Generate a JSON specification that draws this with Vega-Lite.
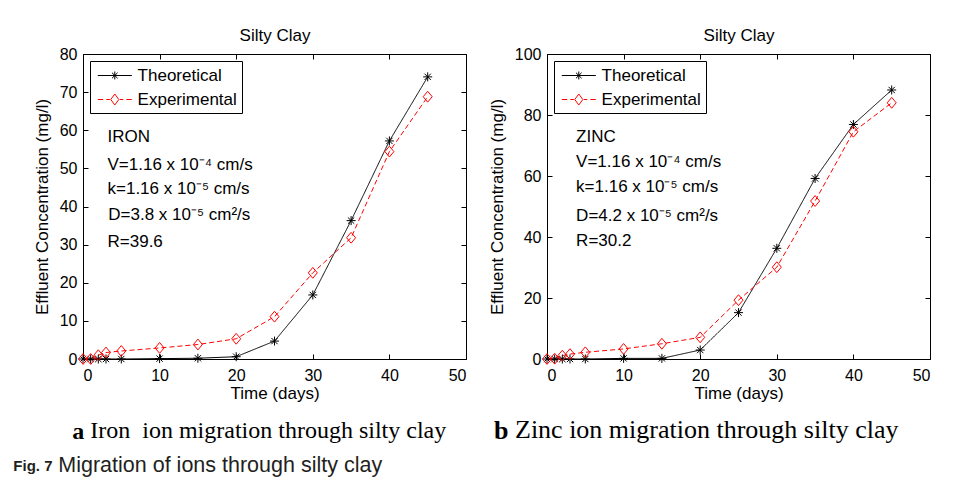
{
  "$schema": "https://vega.github.io/schema/vega-lite/v6.json",
  "padding": {"left": 13, "top": 25, "right": 5, "bottom": 5},
  "background": "#ffffff",
  "datasets": {
    "iron": [
      {"t": 0, "c": 0, "series": "Theoretical"},
      {"t": 1, "c": 0, "series": "Theoretical"},
      {"t": 2, "c": 0, "series": "Theoretical"},
      {"t": 3, "c": 0, "series": "Theoretical"},
      {"t": 5, "c": 0, "series": "Theoretical"},
      {"t": 10, "c": 0.1, "series": "Theoretical"},
      {"t": 15, "c": 0.2, "series": "Theoretical"},
      {"t": 20, "c": 0.6, "series": "Theoretical"},
      {"t": 25, "c": 4.7, "series": "Theoretical"},
      {"t": 30, "c": 16.8, "series": "Theoretical"},
      {"t": 35, "c": 36.3, "series": "Theoretical"},
      {"t": 40, "c": 57.2, "series": "Theoretical"},
      {"t": 45, "c": 74.0, "series": "Theoretical"},
      {"t": 0, "c": 0, "series": "Experimental"},
      {"t": 1, "c": 0, "series": "Experimental"},
      {"t": 2, "c": 1.0, "series": "Experimental"},
      {"t": 3, "c": 1.7, "series": "Experimental"},
      {"t": 5, "c": 2.1, "series": "Experimental"},
      {"t": 10, "c": 2.9, "series": "Experimental"},
      {"t": 15, "c": 3.8, "series": "Experimental"},
      {"t": 20, "c": 5.3, "series": "Experimental"},
      {"t": 25, "c": 11.1, "series": "Experimental"},
      {"t": 30, "c": 22.6, "series": "Experimental"},
      {"t": 35, "c": 31.8, "series": "Experimental"},
      {"t": 40, "c": 54.4, "series": "Experimental"},
      {"t": 45, "c": 68.8, "series": "Experimental"}
    ],
    "zinc": [
      {"t": 0, "c": 0, "series": "Theoretical"},
      {"t": 1, "c": 0, "series": "Theoretical"},
      {"t": 2, "c": 0, "series": "Theoretical"},
      {"t": 3, "c": 0, "series": "Theoretical"},
      {"t": 5, "c": 0, "series": "Theoretical"},
      {"t": 10, "c": 0.2, "series": "Theoretical"},
      {"t": 15, "c": 0.2, "series": "Theoretical"},
      {"t": 20, "c": 2.95, "series": "Theoretical"},
      {"t": 25, "c": 15.2, "series": "Theoretical"},
      {"t": 30, "c": 36.3, "series": "Theoretical"},
      {"t": 35, "c": 59.2, "series": "Theoretical"},
      {"t": 40, "c": 76.9, "series": "Theoretical"},
      {"t": 45, "c": 88.2, "series": "Theoretical"},
      {"t": 0, "c": 0, "series": "Experimental"},
      {"t": 1, "c": 0.1, "series": "Experimental"},
      {"t": 2, "c": 1.1, "series": "Experimental"},
      {"t": 3, "c": 1.6, "series": "Experimental"},
      {"t": 5, "c": 2.2, "series": "Experimental"},
      {"t": 10, "c": 3.3, "series": "Experimental"},
      {"t": 15, "c": 5.0, "series": "Experimental"},
      {"t": 20, "c": 7.1, "series": "Experimental"},
      {"t": 25, "c": 19.3, "series": "Experimental"},
      {"t": 30, "c": 30.1, "series": "Experimental"},
      {"t": 35, "c": 51.8, "series": "Experimental"},
      {"t": 40, "c": 74.5, "series": "Experimental"},
      {"t": 45, "c": 84.0, "series": "Experimental"}
    ],
    "ironNotes": [
      {"t": 3.2, "c": 57.0, "label": "IRON"},
      {"t": 3.2, "c": 49.6, "label": "V=1.16 x 10⁻⁴ cm/s"},
      {"t": 3.2, "c": 43.4, "label": "k=1.16 x 10⁻⁵ cm/s"},
      {"t": 3.3, "c": 36.5, "label": "D=3.8 x 10⁻⁵ cm²/s"},
      {"t": 3.2, "c": 29.5, "label": "R=39.6"}
    ],
    "zincNotes": [
      {"t": 3.8, "c": 71.2, "label": "ZINC"},
      {"t": 3.8, "c": 62.8, "label": "V=1.16 x 10⁻⁴ cm/s"},
      {"t": 3.8, "c": 54.7, "label": "k=1.16 x 10⁻⁵ cm/s"},
      {"t": 3.8, "c": 45.3, "label": "D=4.2 x 10⁻⁵ cm²/s"},
      {"t": 3.8, "c": 37.1, "label": "R=30.2"}
    ]
  },
  "title": {
    "text": "Fig. 7",
    "orient": "bottom",
    "anchor": "start",
    "frame": "group",
    "font": "Liberation Sans",
    "fontSize": 15,
    "fontWeight": "bold",
    "color": "#231f20",
    "baseline": "alphabetic",
    "offset": 0,
    "dx": -69.7,
    "dy": -5
  },
  "vconcat": [
    {
      "title": {
        "text": "Migration of ions through silty clay",
        "orient": "bottom",
        "anchor": "start",
        "frame": "group",
        "font": "Liberation Sans",
        "fontSize": 21.5,
        "fontWeight": "normal",
        "color": "#231f20",
        "baseline": "alphabetic",
        "offset": 28,
        "dx": -24.7
      },
      "spacing": 20,
      "hconcat": [
        {
          "bounds": "flush",
          "title": {
            "text": "a",
            "orient": "bottom",
            "anchor": "start",
            "frame": "group",
            "font": "Liberation Serif",
            "fontSize": 24,
            "fontWeight": "bold",
            "color": "#000000",
            "baseline": "alphabetic",
            "offset": 0,
            "dx": -10.7,
            "dy": -5
          },
          "vconcat": [
            {
              "width": 383,
              "height": 305,
              "title": {
                "text": "Iron\u00a0 ion migration through silty clay",
                "orient": "bottom",
                "anchor": "start",
                "frame": "group",
                "font": "Liberation Serif",
                "fontSize": 24,
                "fontWeight": "normal",
                "color": "#000000",
                "baseline": "alphabetic",
                "offset": 37,
                "dx": 7.3
              },
              "resolve": {"scale": {"color": "independent", "shape": "independent", "strokeDash": "independent"}},
              "layer": [
                {
                  "data": {"name": "iron"},
                  "mark": {"type": "line", "strokeWidth": 1, "clip": false},
                  "encoding": {
                    "x": {"field": "t", "type": "quantitative", "scale": {"domain": [0, 50], "nice": false},
                          "axis": {"orient": "bottom", "title": "Time (days)", "values": [0, 10, 20, 30, 40, 50], "labelPadding": 13, "titlePadding": 2}},
                    "y": {"field": "c", "type": "quantitative", "scale": {"domain": [0, 80], "nice": false},
                          "axis": {"orient": "left", "title": "Effluent Concentration (mg/l)", "values": [0, 10, 20, 30, 40, 50, 60, 70, 80], "labelPadding": 11, "titlePadding": 8}},
                    "color": {"field": "series", "type": "nominal",
                              "scale": {"domain": ["Theoretical", "Experimental"], "range": ["#000000", "#ff0000"]},
                              "legend": null},
                    "strokeDash": {"field": "series", "type": "nominal",
                                   "scale": {"domain": ["Theoretical", "Experimental"], "range": [[1, 0], [5, 3]]},
                                   "legend": null}
                  }
                },
                {
                  "data": {"name": "iron"},
                  "mark": {"type": "point", "filled": false, "strokeWidth": 1, "size": 81, "opacity": 1, "clip": false},
                  "encoding": {
                    "x": {"field": "t", "type": "quantitative",
                          "axis": {"orient": "top", "labels": false, "title": "Silty Clay", "values": [0, 10, 20, 30, 40, 50], "titlePadding": 13.5, "titleBaseline": "alphabetic", "domain": false}},
                    "y": {"field": "c", "type": "quantitative",
                          "axis": {"orient": "right", "labels": false, "title": null, "values": [0, 10, 20, 30, 40, 50, 60, 70, 80], "domain": false}},
                    "color": {"field": "series", "type": "nominal",
                              "scale": {"domain": ["Theoretical", "Experimental"], "range": ["#000000", "#ff0000"]},
                              "legend": null},
                    "shape": {"field": "series", "type": "nominal",
                              "scale": {"domain": ["Theoretical", "Experimental"], "range": ["M-1,0H1M0,-1V1M-0.7,-0.7L0.7,0.7M-0.7,0.7L0.7,-0.7", "M0,-1.2L1,0L0,1.2L-1,0Z"]},
                              "legend": null}
                  }
                },
                {
                  "data": {"name": "iron"},
                  "mark": {"type": "point", "filled": false, "strokeWidth": 1, "size": 0, "opacity": 1, "clip": false},
                  "encoding": {
                    "x": {"field": "t", "type": "quantitative", "axis": null},
                    "y": {"field": "c", "type": "quantitative", "axis": null},
                    "color": {"field": "series", "type": "nominal",
                              "scale": {"domain": ["Theoretical", "Experimental"], "range": ["#000000", "#ff0000"]},
                              "legend": {
                                "title": null, "orient": "top-left", "offset": 7, "padding": 5,
                                "strokeColor": "#000000", "fillColor": "#ffffff",
                                "labelFontSize": 17, "labelColor": "#000000", "labelFont": "Liberation Sans",
                                "symbolSize": 324, "symbolStrokeWidth": 1, "labelOffset": 23.6, "rowPadding": 6, "labelLimit": 300,
                                "symbolFillColor": "transparent", "symbolOpacity": 1
                              }},
                    "shape": {"field": "series", "type": "nominal",
                              "scale": {"domain": ["Theoretical", "Experimental"], "range": ["M-0.744,0H3.033M1.144,-0.444V0.444M0.83,-0.31L1.458,0.31M0.83,0.31L1.458,-0.31", "M-0.744,0H-0.133M0.2,0H0.589M1.7,0H2.089M2.422,0H3.033M1.144,-0.61L1.589,0L1.144,0.61L0.7,0Z"]},
                              "legend": {
                                "title": null, "orient": "top-left", "offset": 7, "padding": 5,
                                "strokeColor": "#000000", "fillColor": "#ffffff",
                                "labelFontSize": 17, "labelColor": "#000000", "labelFont": "Liberation Sans",
                                "symbolSize": 324, "symbolStrokeWidth": 1, "labelOffset": 23.6, "rowPadding": 6, "labelLimit": 300,
                                "symbolFillColor": "transparent", "symbolOpacity": 1
                              }}
                  }
                },
                {
                  "data": {"name": "ironNotes"},
                  "mark": {"type": "text", "align": "left", "baseline": "alphabetic", "fontSize": 17, "color": "#000000"},
                  "encoding": {
                    "x": {"field": "t", "type": "quantitative", "axis": null},
                    "y": {"field": "c", "type": "quantitative", "axis": null},
                    "text": {"field": "label"}
                  }
                }
              ]
            }
          ]
        },
        {
          "bounds": "flush",
          "title": {
            "text": "b",
            "orient": "bottom",
            "anchor": "start",
            "frame": "group",
            "font": "Liberation Serif",
            "fontSize": 26,
            "fontWeight": "bold",
            "color": "#000000",
            "baseline": "alphabetic",
            "offset": 0,
            "dx": -53,
            "dy": -5
          },
          "vconcat": [
            {
              "width": 383,
              "height": 305,
              "title": {
                "text": "Zinc ion migration through silty clay",
                "orient": "bottom",
                "anchor": "start",
                "frame": "group",
                "font": "Liberation Serif",
                "fontSize": 26,
                "fontWeight": "normal",
                "color": "#000000",
                "baseline": "alphabetic",
                "offset": 37,
                "dx": -32
              },
              "resolve": {"scale": {"color": "independent", "shape": "independent", "strokeDash": "independent"}},
              "layer": [
                {
                  "data": {"name": "zinc"},
                  "mark": {"type": "line", "strokeWidth": 1, "clip": false},
                  "encoding": {
                    "x": {"field": "t", "type": "quantitative", "scale": {"domain": [0, 50], "nice": false},
                          "axis": {"orient": "bottom", "title": "Time (days)", "values": [0, 10, 20, 30, 40, 50], "labelPadding": 13, "titlePadding": 2}},
                    "y": {"field": "c", "type": "quantitative", "scale": {"domain": [0, 100], "nice": false},
                          "axis": {"orient": "left", "title": "Effluent Concentration (mg/l)", "values": [0, 20, 40, 60, 80, 100], "labelPadding": 11, "titlePadding": 8}},
                    "color": {"field": "series", "type": "nominal",
                              "scale": {"domain": ["Theoretical", "Experimental"], "range": ["#000000", "#ff0000"]},
                              "legend": null},
                    "strokeDash": {"field": "series", "type": "nominal",
                                   "scale": {"domain": ["Theoretical", "Experimental"], "range": [[1, 0], [5, 3]]},
                                   "legend": null}
                  }
                },
                {
                  "data": {"name": "zinc"},
                  "mark": {"type": "point", "filled": false, "strokeWidth": 1, "size": 81, "opacity": 1, "clip": false},
                  "encoding": {
                    "x": {"field": "t", "type": "quantitative",
                          "axis": {"orient": "top", "labels": false, "title": "Silty Clay", "values": [0, 10, 20, 30, 40, 50], "titlePadding": 13.5, "titleBaseline": "alphabetic", "domain": false}},
                    "y": {"field": "c", "type": "quantitative",
                          "axis": {"orient": "right", "labels": false, "title": null, "values": [0, 20, 40, 60, 80, 100], "domain": false}},
                    "color": {"field": "series", "type": "nominal",
                              "scale": {"domain": ["Theoretical", "Experimental"], "range": ["#000000", "#ff0000"]},
                              "legend": null},
                    "shape": {"field": "series", "type": "nominal",
                              "scale": {"domain": ["Theoretical", "Experimental"], "range": ["M-1,0H1M0,-1V1M-0.7,-0.7L0.7,0.7M-0.7,0.7L0.7,-0.7", "M0,-1.2L1,0L0,1.2L-1,0Z"]},
                              "legend": null}
                  }
                },
                {
                  "data": {"name": "zinc"},
                  "mark": {"type": "point", "filled": false, "strokeWidth": 1, "size": 0, "opacity": 1, "clip": false},
                  "encoding": {
                    "x": {"field": "t", "type": "quantitative", "axis": null},
                    "y": {"field": "c", "type": "quantitative", "axis": null},
                    "color": {"field": "series", "type": "nominal",
                              "scale": {"domain": ["Theoretical", "Experimental"], "range": ["#000000", "#ff0000"]},
                              "legend": {
                                "title": null, "orient": "top-left", "offset": 7, "padding": 5,
                                "strokeColor": "#000000", "fillColor": "#ffffff",
                                "labelFontSize": 17, "labelColor": "#000000", "labelFont": "Liberation Sans",
                                "symbolSize": 324, "symbolStrokeWidth": 1, "labelOffset": 23.6, "rowPadding": 6, "labelLimit": 300,
                                "symbolFillColor": "transparent", "symbolOpacity": 1
                              }},
                    "shape": {"field": "series", "type": "nominal",
                              "scale": {"domain": ["Theoretical", "Experimental"], "range": ["M-0.744,0H3.033M1.144,-0.444V0.444M0.83,-0.31L1.458,0.31M0.83,0.31L1.458,-0.31", "M-0.744,0H-0.133M0.2,0H0.589M1.7,0H2.089M2.422,0H3.033M1.144,-0.61L1.589,0L1.144,0.61L0.7,0Z"]},
                              "legend": {
                                "title": null, "orient": "top-left", "offset": 7, "padding": 5,
                                "strokeColor": "#000000", "fillColor": "#ffffff",
                                "labelFontSize": 17, "labelColor": "#000000", "labelFont": "Liberation Sans",
                                "symbolSize": 324, "symbolStrokeWidth": 1, "labelOffset": 23.6, "rowPadding": 6, "labelLimit": 300,
                                "symbolFillColor": "transparent", "symbolOpacity": 1
                              }}
                  }
                },
                {
                  "data": {"name": "zincNotes"},
                  "mark": {"type": "text", "align": "left", "baseline": "alphabetic", "fontSize": 17, "color": "#000000"},
                  "encoding": {
                    "x": {"field": "t", "type": "quantitative", "axis": null},
                    "y": {"field": "c", "type": "quantitative", "axis": null},
                    "text": {"field": "label"}
                  }
                }
              ]
            }
          ]
        }
      ]
    }
  ],
  "config": {
    "font": "Liberation Sans",
    "view": {"stroke": "#000000", "strokeWidth": 1},
    "axis": {
      "grid": false,
      "domainColor": "#000000",
      "domainWidth": 1,
      "tickColor": "#000000",
      "tickWidth": 1,
      "tickSize": -5,
      "labelColor": "#000000",
      "labelFont": "Liberation Sans",
      "labelFontSize": 16,
      "titleColor": "#000000",
      "titleFont": "Liberation Sans",
      "titleFontSize": 17,
      "titleFontWeight": "normal"
    }
  }
}
